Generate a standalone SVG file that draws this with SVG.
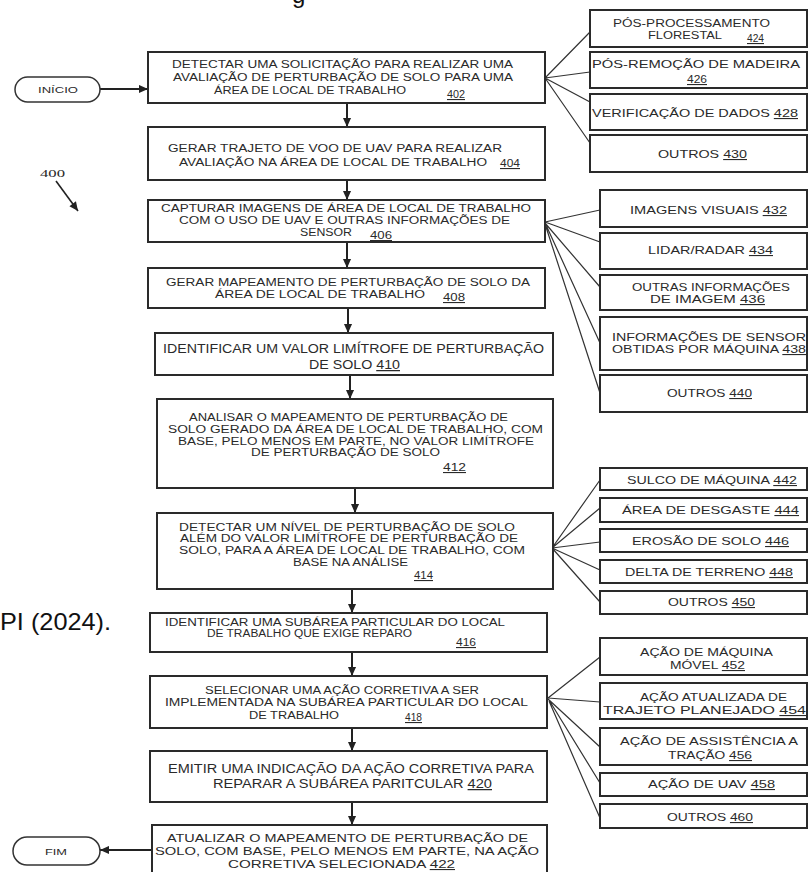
<svg xmlns="http://www.w3.org/2000/svg" width="812" height="872" viewBox="0 0 812 872">
<defs>
<style>
.box{fill:#fff;stroke:#2a2a2a;stroke-width:2}
.term{fill:#fff;stroke:#333;stroke-width:1.5}
.t{font-family:"Liberation Sans",Arial,sans-serif;fill:#2a2a2a;font-size:10px}
.s{font-size:11px}
.l{font-size:12.5px}
.n{font-size:11px}
.u{text-decoration:underline}
.fan{stroke:#333;stroke-width:1.2;fill:none}
.arr{stroke:#222;stroke-width:2;fill:none;marker-end:url(#ah)}
.big{font-family:"Liberation Sans",Arial,sans-serif;fill:#111;font-size:24px}
</style>
<marker id="ah" viewBox="0 0 10 10" refX="10" refY="5" markerWidth="10" markerHeight="9" markerUnits="userSpaceOnUse" orient="auto">
<path d="M0,0.5 L10,5 L0,9.5 z" fill="#222"/>
</marker>
</defs>
<rect width="812" height="872" fill="#fff"/>

<text class="big" x="292" y="3">g</text>
<text class="big" x="0" y="630" textLength="111" lengthAdjust="spacingAndGlyphs">PI (2024).</text>

<g id="connectors">
<line class="arr" x1="100" y1="89" x2="148" y2="89"/>
<line class="arr" x1="347" y1="103" x2="347" y2="127"/>
<line class="arr" x1="347" y1="180" x2="347" y2="200"/>
<line class="arr" x1="347" y1="242" x2="347" y2="268"/>
<line class="arr" x1="348" y1="308" x2="348" y2="333"/>
<line class="arr" x1="350" y1="375" x2="350" y2="399"/>
<line class="arr" x1="355" y1="488" x2="355" y2="513"/>
<line class="arr" x1="352" y1="589" x2="352" y2="613"/>
<line class="arr" x1="352" y1="652" x2="352" y2="676"/>
<line class="arr" x1="352" y1="728" x2="352" y2="751"/>
<line class="arr" x1="352" y1="802" x2="352" y2="825"/>
<line class="arr" x1="152" y1="850" x2="100" y2="850"/>
<line class="arr" x1="56" y1="181" x2="78" y2="211" style="stroke-width:1.6"/>
<path class="fan" d="M545,78 L590,32 M545,78 L590,72 M545,78 L590,102 M545,78 L590,143"/>
<path class="fan" d="M545,222 L600,210 M545,222 L600,242 M545,223 L600,287 M546,225 L600,343 M546,227 L600,393"/>
<path class="fan" d="M552,548 L600,480 M552,548 L600,508 M552,548 L600,542 M552,548 L600,570 M552,548 L600,602"/>
<path class="fan" d="M548,698 L600,657 M548,698 L600,702 M548,699 L600,747 M549,700 L600,783 M549,701 L600,818"/>
</g>

<text class="t" x="40" y="177" style="font-family:'Liberation Serif',serif;font-size:10px" textLength="25" lengthAdjust="spacingAndGlyphs">400</text>

<g id="inicio">
<rect class="term" x="15" y="77" width="85" height="25" rx="12.5"/>
<text class="t" x="38" y="93" style="font-size:9px" textLength="40" lengthAdjust="spacingAndGlyphs">INÍCIO</text>
</g>
<g id="fim">
<rect class="term" x="13" y="837" width="87" height="28" rx="14"/>
<text class="t" x="45" y="855" style="font-size:9.5px" textLength="22" lengthAdjust="spacingAndGlyphs">FIM</text>
</g>

<g id="n402">
<rect class="box" x="148" y="52" width="397" height="51"/>
<text class="t" x="172" y="68" textLength="341" lengthAdjust="spacingAndGlyphs">DETECTAR UMA SOLICITAÇÃO PARA REALIZAR UMA</text>
<text class="t" x="173" y="81" textLength="340" lengthAdjust="spacingAndGlyphs">AVALIAÇÃO DE PERTURBAÇÃO DE SOLO PARA UMA</text>
<text class="t" x="214" y="94" textLength="192" lengthAdjust="spacingAndGlyphs">ÁREA DE LOCAL DE TRABALHO</text>
<text class="t n u" x="447" y="98" textLength="18" lengthAdjust="spacingAndGlyphs">402</text>
</g>
<g id="n404">
<rect class="box" x="148" y="127" width="397" height="53"/>
<text class="t" x="168" y="152" textLength="334" lengthAdjust="spacingAndGlyphs">GERAR TRAJETO DE VOO DE UAV PARA REALIZAR</text>
<text class="t" x="179" y="166" textLength="308" lengthAdjust="spacingAndGlyphs">AVALIAÇÃO NA ÁREA DE LOCAL DE TRABALHO</text>
<text class="t n u" x="500" y="167" textLength="20" lengthAdjust="spacingAndGlyphs">404</text>
</g>
<g id="n406">
<rect class="box" x="148" y="200" width="397" height="42"/>
<text class="t" x="161" y="212" textLength="370" lengthAdjust="spacingAndGlyphs">CAPTURAR IMAGENS DE ÁREA DE LOCAL DE TRABALHO</text>
<text class="t" x="179" y="224" textLength="331" lengthAdjust="spacingAndGlyphs">COM O USO DE UAV E OUTRAS INFORMAÇÕES DE</text>
<text class="t" x="300" y="236" textLength="52" lengthAdjust="spacingAndGlyphs">SENSOR</text>
<text class="t n u" x="370" y="239" textLength="22" lengthAdjust="spacingAndGlyphs">406</text>
</g>
<g id="n408">
<rect class="box" x="148" y="268" width="397" height="40"/>
<text class="t" x="166" y="286" textLength="364" lengthAdjust="spacingAndGlyphs">GERAR MAPEAMENTO DE PERTURBAÇÃO DE SOLO DA</text>
<text class="t" x="215" y="298" textLength="210" lengthAdjust="spacingAndGlyphs">ÁREA DE LOCAL DE TRABALHO</text>
<text class="t n u" x="443" y="301" textLength="22" lengthAdjust="spacingAndGlyphs">408</text>
</g>
<g id="n410">
<rect class="box" x="155" y="333" width="398" height="42"/>
<text class="t l" x="163" y="353" textLength="381" lengthAdjust="spacingAndGlyphs">IDENTIFICAR UM VALOR LIMÍTROFE DE PERTURBAÇÃO</text>
<text class="t l" x="309" y="369" textLength="91" lengthAdjust="spacingAndGlyphs">DE SOLO <tspan class="u">410</tspan></text>
</g>
<g id="n412">
<rect class="box" x="157" y="399" width="396" height="89"/>
<text class="t" x="189" y="421" textLength="319" lengthAdjust="spacingAndGlyphs">ANALISAR O MAPEAMENTO DE PERTURBAÇÃO DE</text>
<text class="t" x="168" y="433" textLength="375" lengthAdjust="spacingAndGlyphs">SOLO GERADO DA ÁREA DE LOCAL DE TRABALHO, COM</text>
<text class="t" x="178" y="445" textLength="356" lengthAdjust="spacingAndGlyphs">BASE, PELO MENOS EM PARTE, NO VALOR LIMÍTROFE</text>
<text class="t" x="251" y="456" textLength="189" lengthAdjust="spacingAndGlyphs">DE PERTURBAÇÃO DE SOLO</text>
<text class="t n u" x="443" y="471" textLength="23" lengthAdjust="spacingAndGlyphs">412</text>
</g>
<g id="n414">
<rect class="box" x="157" y="513" width="396" height="76"/>
<text class="t" x="179" y="531" textLength="336" lengthAdjust="spacingAndGlyphs">DETECTAR UM NÍVEL DE PERTURBAÇÃO DE SOLO</text>
<text class="t" x="180" y="542" textLength="338" lengthAdjust="spacingAndGlyphs">ALÉM DO VALOR LIMÍTROFE DE PERTURBAÇÃO DE</text>
<text class="t" x="179" y="554" textLength="346" lengthAdjust="spacingAndGlyphs">SOLO, PARA A ÁREA DE LOCAL DE TRABALHO, COM</text>
<text class="t" x="293" y="566" textLength="115" lengthAdjust="spacingAndGlyphs">BASE NA ANÁLISE</text>
<text class="t n u" x="414" y="579" textLength="19" lengthAdjust="spacingAndGlyphs">414</text>
</g>
<g id="n416">
<rect class="box" x="150" y="613" width="397" height="39"/>
<text class="t" x="165" y="626" textLength="340" lengthAdjust="spacingAndGlyphs">IDENTIFICAR UMA SUBÁREA PARTICULAR DO LOCAL</text>
<text class="t" x="207" y="637" textLength="205" lengthAdjust="spacingAndGlyphs">DE TRABALHO QUE EXIGE REPARO</text>
<text class="t n u" x="456" y="646" textLength="20" lengthAdjust="spacingAndGlyphs">416</text>
</g>
<g id="n418">
<rect class="box" x="150" y="676" width="397" height="52"/>
<text class="t" x="205" y="694" textLength="274" lengthAdjust="spacingAndGlyphs">SELECIONAR UMA AÇÃO CORRETIVA A SER</text>
<text class="t" x="165" y="706" textLength="363" lengthAdjust="spacingAndGlyphs">IMPLEMENTADA NA SUBÁREA PARTICULAR DO LOCAL</text>
<text class="t" x="249" y="719" textLength="90" lengthAdjust="spacingAndGlyphs">DE TRABALHO</text>
<text class="t n u" x="405" y="721" textLength="17" lengthAdjust="spacingAndGlyphs">418</text>
</g>
<g id="n420">
<rect class="box" x="150" y="751" width="397" height="51"/>
<text class="t l" x="168" y="773" textLength="366" lengthAdjust="spacingAndGlyphs">EMITIR UMA INDICAÇÃO DA AÇÃO CORRETIVA PARA</text>
<text class="t l" x="213" y="788" textLength="279" lengthAdjust="spacingAndGlyphs">REPARAR A SUBÁREA PARITCULAR <tspan class="u">420</tspan></text>
</g>
<g id="n422">
<rect class="box" x="152" y="825" width="395" height="52"/>
<text class="t s" x="167" y="842" textLength="361" lengthAdjust="spacingAndGlyphs">ATUALIZAR O MAPEAMENTO DE PERTURBAÇÃO DE</text>
<text class="t s" x="155" y="855" textLength="384" lengthAdjust="spacingAndGlyphs">SOLO, COM BASE, PELO MENOS EM PARTE, NA AÇÃO</text>
<text class="t s" x="228" y="868" textLength="227" lengthAdjust="spacingAndGlyphs">CORRETIVA SELECIONADA <tspan class="u">422</tspan></text>
</g>

<g id="n424">
<rect class="box" x="590" y="10" width="217" height="37"/>
<text class="t" x="613" y="27" textLength="157" lengthAdjust="spacingAndGlyphs">PÓS-PROCESSAMENTO</text>
<text class="t" x="648" y="39" textLength="74" lengthAdjust="spacingAndGlyphs">FLORESTAL</text>
<text class="t n u" x="747" y="42" textLength="17" lengthAdjust="spacingAndGlyphs">424</text>
</g>
<g id="n426">
<rect class="box" x="590" y="52" width="217" height="36"/>
<text class="t s" x="592" y="68" textLength="208" lengthAdjust="spacingAndGlyphs">PÓS-REMOÇÃO DE MADEIRA</text>
<text class="t s u" x="687" y="83" textLength="20" lengthAdjust="spacingAndGlyphs">426</text>
</g>
<g id="n428">
<rect class="box" x="590" y="94" width="217" height="36"/>
<text class="t s" x="592" y="117" textLength="206" lengthAdjust="spacingAndGlyphs">VERIFICAÇÃO DE DADOS <tspan class="u">428</tspan></text>
</g>
<g id="n430">
<rect class="box" x="590" y="135" width="217" height="37"/>
<text class="t s" x="658" y="158" textLength="89" lengthAdjust="spacingAndGlyphs">OUTROS <tspan class="u">430</tspan></text>
</g>

<g id="n432">
<rect class="box" x="600" y="190" width="207" height="37"/>
<text class="t s" x="630" y="214" textLength="157" lengthAdjust="spacingAndGlyphs">IMAGENS VISUAIS <tspan class="u">432</tspan></text>
</g>
<g id="n434">
<rect class="box" x="600" y="233" width="207" height="36"/>
<text class="t s" x="648" y="254" textLength="125" lengthAdjust="spacingAndGlyphs">LIDAR/RADAR <tspan class="u">434</tspan></text>
</g>
<g id="n436">
<rect class="box" x="600" y="275" width="207" height="35"/>
<text class="t s" x="632" y="291" textLength="158" lengthAdjust="spacingAndGlyphs">OUTRAS INFORMAÇÕES</text>
<text class="t s" x="650" y="303" textLength="115" lengthAdjust="spacingAndGlyphs">DE IMAGEM <tspan class="u">436</tspan></text>
</g>
<g id="n438">
<rect class="box" x="600" y="317" width="207" height="53"/>
<text class="t s" x="612" y="341" textLength="194" lengthAdjust="spacingAndGlyphs">INFORMAÇÕES DE SENSOR</text>
<text class="t s" x="612" y="353" textLength="194" lengthAdjust="spacingAndGlyphs">OBTIDAS POR MÁQUINA <tspan class="u">438</tspan></text>
</g>
<g id="n440">
<rect class="box" x="600" y="375" width="207" height="37"/>
<text class="t s" x="667" y="397" textLength="85" lengthAdjust="spacingAndGlyphs">OUTROS <tspan class="u">440</tspan></text>
</g>

<g id="n442">
<rect class="box" x="600" y="468" width="207" height="22"/>
<text class="t s" x="627" y="484" textLength="170" lengthAdjust="spacingAndGlyphs">SULCO DE MÁQUINA <tspan class="u">442</tspan></text>
</g>
<g id="n444">
<rect class="box" x="600" y="498" width="207" height="24"/>
<text class="t s" x="622" y="514" textLength="177" lengthAdjust="spacingAndGlyphs">ÁREA DE DESGASTE <tspan class="u">444</tspan></text>
</g>
<g id="n446">
<rect class="box" x="600" y="529" width="207" height="23"/>
<text class="t s" x="632" y="545" textLength="157" lengthAdjust="spacingAndGlyphs">EROSÃO DE SOLO <tspan class="u">446</tspan></text>
</g>
<g id="n448">
<rect class="box" x="600" y="560" width="207" height="23"/>
<text class="t s" x="625" y="576" textLength="168" lengthAdjust="spacingAndGlyphs">DELTA DE TERRENO <tspan class="u">448</tspan></text>
</g>
<g id="n450">
<rect class="box" x="600" y="591" width="207" height="23"/>
<text class="t s" x="668" y="606" textLength="87" lengthAdjust="spacingAndGlyphs">OUTROS <tspan class="u">450</tspan></text>
</g>

<g id="n452">
<rect class="box" x="600" y="638" width="207" height="37"/>
<text class="t s" x="640" y="656" textLength="133" lengthAdjust="spacingAndGlyphs">AÇÃO DE MÁQUINA</text>
<text class="t s" x="670" y="669" textLength="75" lengthAdjust="spacingAndGlyphs">MÓVEL <tspan class="u">452</tspan></text>
</g>
<g id="n454">
<rect class="box" x="600" y="683" width="207" height="36"/>
<text class="t s" x="640" y="701" textLength="147" lengthAdjust="spacingAndGlyphs">AÇÃO ATUALIZADA DE</text>
<text class="t s" x="603" y="714" textLength="203" lengthAdjust="spacingAndGlyphs">TRAJETO PLANEJADO <tspan class="u">454</tspan></text>
</g>
<g id="n456">
<rect class="box" x="600" y="728" width="207" height="37"/>
<text class="t s" x="620" y="745" textLength="178" lengthAdjust="spacingAndGlyphs">AÇÃO DE ASSISTÊNCIA A</text>
<text class="t s" x="668" y="759" textLength="84" lengthAdjust="spacingAndGlyphs">TRAÇÃO <tspan class="u">456</tspan></text>
</g>
<g id="n458">
<rect class="box" x="600" y="773" width="207" height="23"/>
<text class="t s" x="648" y="788" textLength="127" lengthAdjust="spacingAndGlyphs">AÇÃO DE UAV <tspan class="u">458</tspan></text>
</g>
<g id="n460">
<rect class="box" x="600" y="804" width="207" height="24"/>
<text class="t s" x="667" y="821" textLength="86" lengthAdjust="spacingAndGlyphs">OUTROS <tspan class="u">460</tspan></text>
</g>
</svg>
